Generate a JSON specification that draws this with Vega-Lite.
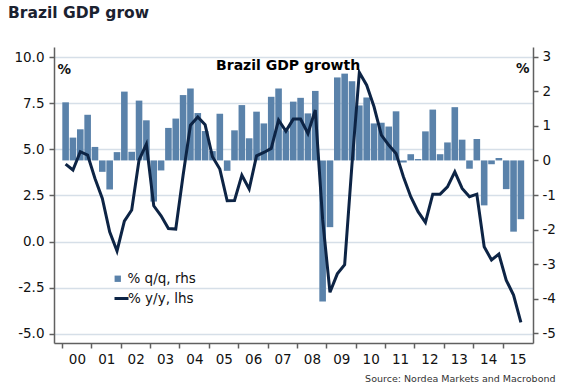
{
  "$schema": "https://vega.github.io/schema/vega-lite/v6.json",
  "width": 479,
  "height": 296,
  "autosize": {"type": "none"},
  "padding": {"left": 54, "top": 47, "right": 34, "bottom": 45},
  "background": "white",
  "config": {
    "font": "DejaVu Sans",
    "view": {"stroke": null},
    "axis": {"labelFont": "DejaVu Sans", "titleFont": "DejaVu Sans", "labelOverlap": false}
  },
  "title": {
    "text": "Brazil GDP grow",
    "anchor": "start",
    "frame": "group",
    "dx": -46,
    "offset": 26,
    "fontSize": 15.5,
    "fontWeight": "bold",
    "color": "#1b2230",
    "font": "DejaVu Sans"
  },
  "encoding": {
    "x": {
      "field": "t",
      "type": "quantitative",
      "scale": {"domain": [1999.9, 2015.867], "nice": false, "zero": false},
      "axis": {
        "values": [2000, 2001, 2002, 2003, 2004, 2005, 2006, 2007, 2008, 2009, 2010, 2011, 2012, 2013, 2014, 2015],
        "labelExpr": "substring(toString(datum.value), 2, 4)",
        "labelOffset": 15,
        "labelFlush": false,
        "labelOverlap": false,
        "labelBound": false,
        "grid": false,
        "tickSize": 5,
        "tickColor": "#606060",
        "tickWidth": 1.5,
        "domainColor": "#606060",
        "domainWidth": 1.5,
        "labelPadding": 4,
        "labelFontSize": 13.5,
        "labelColor": "#111111",
        "title": "Source: Nordea Markets and Macrobond",
        "titleAnchor": "end",
        "titleAlign": "right",
        "titleX": 501,
        "titleY": 38,
        "titleBaseline": "alphabetic",
        "titleFontSize": 9.5,
        "titleFontWeight": "normal",
        "titleColor": "#333333"
      }
    }
  },
  "layer": [
    {
      "data": {
        "values": [
          {"t": 2000.125, "qq": 1.68, "yy": 4.20},
          {"t": 2000.375, "qq": 0.66, "yy": 3.88},
          {"t": 2000.625, "qq": 0.90, "yy": 4.87},
          {"t": 2000.875, "qq": 1.32, "yy": 4.69},
          {"t": 2001.125, "qq": 0.39, "yy": 3.42},
          {"t": 2001.375, "qq": -0.33, "yy": 2.34},
          {"t": 2001.625, "qq": -0.84, "yy": 0.53},
          {"t": 2001.875, "qq": 0.24, "yy": -0.51},
          {"t": 2002.125, "qq": 1.99, "yy": 1.11},
          {"t": 2002.375, "qq": 0.25, "yy": 1.71},
          {"t": 2002.625, "qq": 1.73, "yy": 4.42},
          {"t": 2002.875, "qq": 1.16, "yy": 5.28},
          {"t": 2003.125, "qq": -1.19, "yy": 1.94},
          {"t": 2003.375, "qq": -0.29, "yy": 1.40},
          {"t": 2003.625, "qq": 0.94, "yy": 0.71},
          {"t": 2003.875, "qq": 1.21, "yy": 0.68},
          {"t": 2004.125, "qq": 1.89, "yy": 3.60},
          {"t": 2004.375, "qq": 2.08, "yy": 6.31},
          {"t": 2004.625, "qq": 1.37, "yy": 6.75},
          {"t": 2004.875, "qq": 0.85, "yy": 6.33},
          {"t": 2005.125, "qq": 0.27, "yy": 4.60},
          {"t": 2005.375, "qq": 1.35, "yy": 3.93},
          {"t": 2005.625, "qq": -0.30, "yy": 2.21},
          {"t": 2005.875, "qq": 0.87, "yy": 2.23},
          {"t": 2006.125, "qq": 1.60, "yy": 3.60},
          {"t": 2006.375, "qq": 0.64, "yy": 2.85},
          {"t": 2006.625, "qq": 1.41, "yy": 4.65},
          {"t": 2006.875, "qq": 1.07, "yy": 4.83},
          {"t": 2007.125, "qq": 1.84, "yy": 5.05},
          {"t": 2007.375, "qq": 2.08, "yy": 6.59},
          {"t": 2007.625, "qq": 0.87, "yy": 5.99},
          {"t": 2007.875, "qq": 1.70, "yy": 6.64},
          {"t": 2008.125, "qq": 1.81, "yy": 6.64},
          {"t": 2008.375, "qq": 1.36, "yy": 5.86},
          {"t": 2008.625, "qq": 2.01, "yy": 7.13},
          {"t": 2008.875, "qq": -4.08, "yy": 1.20},
          {"t": 2009.125, "qq": -1.93, "yy": -2.75},
          {"t": 2009.375, "qq": 2.40, "yy": -1.75},
          {"t": 2009.625, "qq": 2.51, "yy": -1.25},
          {"t": 2009.875, "qq": 2.29, "yy": 4.20},
          {"t": 2010.125, "qq": 1.59, "yy": 9.17},
          {"t": 2010.375, "qq": 1.82, "yy": 8.48},
          {"t": 2010.625, "qq": 1.07, "yy": 7.31},
          {"t": 2010.875, "qq": 1.09, "yy": 5.77},
          {"t": 2011.125, "qq": 0.98, "yy": 5.23},
          {"t": 2011.375, "qq": 1.42, "yy": 4.78},
          {"t": 2011.625, "qq": -0.06, "yy": 3.52},
          {"t": 2011.875, "qq": 0.18, "yy": 2.43},
          {"t": 2012.125, "qq": 0.04, "yy": 1.62},
          {"t": 2012.375, "qq": 0.84, "yy": 1.04},
          {"t": 2012.625, "qq": 1.47, "yy": 2.57},
          {"t": 2012.875, "qq": 0.18, "yy": 2.57},
          {"t": 2013.125, "qq": 0.52, "yy": 2.97},
          {"t": 2013.375, "qq": 1.54, "yy": 3.78},
          {"t": 2013.625, "qq": 0.60, "yy": 2.88},
          {"t": 2013.875, "qq": -0.24, "yy": 2.43},
          {"t": 2014.125, "qq": 0.62, "yy": 2.57},
          {"t": 2014.375, "qq": -1.30, "yy": -0.28},
          {"t": 2014.625, "qq": -0.11, "yy": -1.00},
          {"t": 2014.875, "qq": 0.07, "yy": -0.68},
          {"t": 2015.125, "qq": -0.83, "yy": -2.09},
          {"t": 2015.375, "qq": -2.06, "yy": -2.90},
          {"t": 2015.625, "qq": -1.70, "yy": -4.38}
        ]
      },
      "layer": [
        {
          "mark": {"type": "bar", "width": 6.6, "color": "#5a82aa"},
          "encoding": {
            "y": {
              "field": "qq",
              "type": "quantitative",
              "scale": {"domain": [-5.28, 3.28], "nice": false, "zero": false},
              "axis": {
                "orient": "right",
                "values": [-5, -4, -3, -2, -1, 0, 1, 2, 3],
                "labelExpr": "toString(datum.value)",
                "grid": false,
                "tickSize": 5,
                "tickColor": "#606060",
                "tickWidth": 1.5,
                "domainColor": "#606060",
                "domainWidth": 1.5,
                "labelPadding": 4,
                "labelFontSize": 13.5,
                "labelColor": "#111111",
                "title": "%",
                "titleAngle": 0,
                "titleX": -4,
                "titleY": 25,
                "titleAlign": "right",
                "titleBaseline": "alphabetic",
                "titleFontSize": 13.5,
                "titleFontWeight": "bold",
                "titleColor": "#111111"
              }
            },
            "color": {
              "datum": "% q/q, rhs",
              "scale": {"range": ["#5a82aa"]},
              "legend": {
                "orient": "none",
                "legendX": 57,
                "legendY": 225,
                "title": null,
                "symbolType": "square",
                "symbolSize": 40,
                "symbolStrokeWidth": 0,
                "labelFontSize": 13.5,
                "labelColor": "#111111",
                "labelOffset": 3,
                "padding": 0
              }
            }
          }
        },
        {
          "mark": {"type": "line", "strokeWidth": 3},
          "encoding": {
            "y": {
              "field": "yy",
              "type": "quantitative",
              "scale": {"domain": [-5.5, 10.55], "nice": false, "zero": false},
              "axis": {
                "orient": "left",
                "values": [-5, -2.5, 0, 2.5, 5, 7.5, 10],
                "labelExpr": "replace(format(datum.value, '.1f'), '\u2212', '-')",
                "grid": true,
                "gridColor": "#d6dfe8",
                "gridWidth": 1.5,
                "tickSize": 5,
                "tickColor": "#606060",
                "tickWidth": 1.5,
                "domainColor": "#606060",
                "domainWidth": 1.5,
                "labelPadding": 5,
                "labelFontSize": 13.5,
                "labelColor": "#111111",
                "title": "%",
                "titleAngle": 0,
                "titleX": 3,
                "titleY": 26,
                "titleAlign": "left",
                "titleBaseline": "alphabetic",
                "titleFontSize": 13.5,
                "titleFontWeight": "bold",
                "titleColor": "#111111"
              }
            },
            "stroke": {
              "datum": "% y/y, lhs",
              "scale": {"range": ["#0d2445"]},
              "legend": {
                "orient": "none",
                "legendX": 59,
                "legendY": 243,
                "title": null,
                "symbolType": "stroke",
                "symbolSize": 196,
                "symbolStrokeWidth": 3,
                "labelFontSize": 13.5,
                "labelColor": "#111111",
                "labelOffset": -2,
                "padding": 0
              }
            }
          }
        }
      ],
      "resolve": {"scale": {"y": "independent"}}
    },
    {
      "data": {"values": [{"label": "Brazil GDP growth", "t": 2007.7, "v": 9.3}]},
      "mark": {"type": "text", "fontWeight": "bold", "fontSize": 14, "align": "center", "baseline": "alphabetic", "color": "#000000"},
      "encoding": {
        "y": {"field": "v", "type": "quantitative", "scale": {"domain": [-5.5, 10.55], "nice": false, "zero": false}, "axis": null},
        "text": {"field": "label"}
      }
    }
  ],
  "resolve": {"scale": {"y": "independent"}}
}
